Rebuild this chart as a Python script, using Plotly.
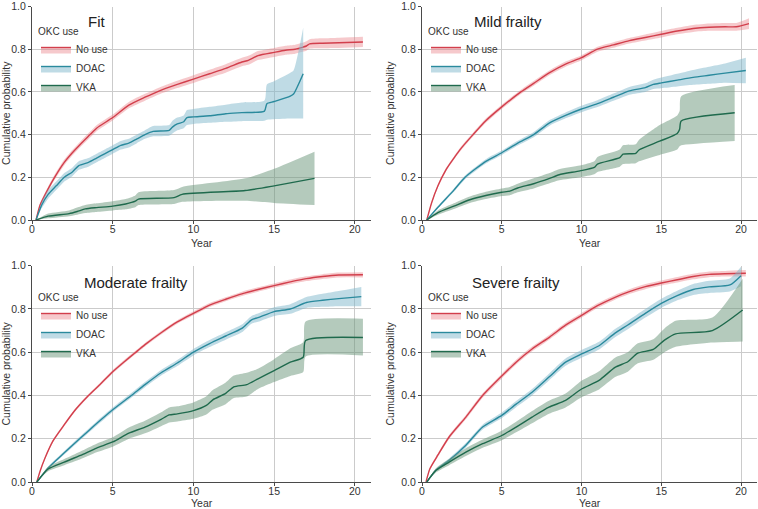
import plotly.graph_objects as go

# ---------------- data ----------------
panel_titles = ["Fit", "Mild frailty", "Moderate frailty", "Severe frailty"]
group_names = ["No use", "DOAC", "VKA"]
legend_title = "OKC use"
x_title = "Year"
y_title = "Cumulative probability"
x_ticks = [0, 5, 10, 15, 20]
y_ticks = [0.0, 0.2, 0.4, 0.6, 0.8, 1.0]

# Fit
fit_nouse_t = [0.25, 0.5, 1, 1.4, 2, 2.5, 3, 3.6, 4, 5, 6, 7, 7.9, 9, 10, 11, 12, 13, 13.4, 14, 15, 15.7, 16.3, 16.8, 17.0, 17.2, 18, 19, 20.5]
fit_nouse_est = [0, 0.07, 0.146, 0.2, 0.27, 0.315, 0.355, 0.4, 0.43, 0.48, 0.538, 0.575, 0.605, 0.635, 0.66, 0.685, 0.71, 0.74, 0.748, 0.77, 0.785, 0.795, 0.8, 0.81, 0.815, 0.825, 0.828, 0.83, 0.834]
fit_nouse_lo = [0, 0.062, 0.135, 0.188, 0.257, 0.302, 0.342, 0.386, 0.416, 0.466, 0.523, 0.559, 0.589, 0.618, 0.642, 0.666, 0.69, 0.72, 0.727, 0.749, 0.764, 0.774, 0.779, 0.789, 0.793, 0.803, 0.805, 0.806, 0.81]
fit_nouse_hi = [0, 0.078, 0.157, 0.212, 0.283, 0.328, 0.368, 0.414, 0.444, 0.494, 0.553, 0.591, 0.621, 0.652, 0.678, 0.704, 0.73, 0.76, 0.769, 0.791, 0.806, 0.816, 0.821, 0.831, 0.837, 0.847, 0.851, 0.854, 0.858]

fit_doac_t = [0.25, 0.6, 1, 1.5, 2, 2.5, 2.9, 3.5, 4, 4.5, 5, 5.5, 6, 6.5, 7, 7.5, 8.5, 8.7, 9.0, 9.4, 9.6, 10, 11, 12, 13, 14.4, 14.55, 15, 16, 16.2, 16.8]
fit_doac_est = [0, 0.07, 0.12, 0.16, 0.2, 0.225, 0.255, 0.27, 0.29, 0.31, 0.33, 0.35, 0.36, 0.38, 0.40, 0.415, 0.42, 0.435, 0.45, 0.46, 0.48, 0.483, 0.488, 0.498, 0.503, 0.51, 0.545, 0.555, 0.58, 0.59, 0.685]
fit_doac_lo = [0, 0.055, 0.1, 0.14, 0.18, 0.205, 0.235, 0.25, 0.27, 0.29, 0.31, 0.33, 0.34, 0.36, 0.38, 0.392, 0.395, 0.405, 0.42, 0.43, 0.445, 0.45, 0.455, 0.46, 0.463, 0.465, 0.47, 0.472, 0.475, 0.475, 0.475]
fit_doac_hi = [0, 0.085, 0.14, 0.18, 0.22, 0.245, 0.275, 0.29, 0.31, 0.33, 0.35, 0.37, 0.38, 0.40, 0.42, 0.44, 0.445, 0.465, 0.48, 0.49, 0.515, 0.52, 0.53, 0.54, 0.55, 0.56, 0.635, 0.65, 0.69, 0.70, 0.90]

fit_vka_t = [0.25, 1, 2.3, 2.8, 3.3, 4, 5, 5.8, 6.4, 6.6, 8.8, 9.3, 13.2, 15, 17.5]
fit_vka_est = [0, 0.018, 0.03, 0.04, 0.052, 0.058, 0.065, 0.075, 0.088, 0.098, 0.105, 0.12, 0.138, 0.16, 0.195]
fit_vka_lo = [0, 0.008, 0.018, 0.025, 0.033, 0.038, 0.045, 0.05, 0.06, 0.07, 0.075, 0.085, 0.09, 0.08, 0.07]
fit_vka_hi = [0, 0.03, 0.045, 0.058, 0.07, 0.078, 0.088, 0.098, 0.115, 0.13, 0.14, 0.155, 0.195, 0.24, 0.32]

# Mild frailty
mild_nouse_t = [0.3, 0.6, 1, 1.5, 2, 2.5, 3.2, 4, 5, 6.2, 7, 8, 9, 10, 11, 12, 13, 14, 15, 16, 17, 18, 19, 19.7, 20.5]
mild_nouse_est = [0, 0.08, 0.16, 0.235, 0.29, 0.34, 0.4, 0.465, 0.53, 0.6, 0.64, 0.69, 0.73, 0.76, 0.8, 0.82, 0.84, 0.855, 0.87, 0.885, 0.897, 0.903, 0.905, 0.905, 0.92]
mild_nouse_lo = [0, 0.074, 0.152, 0.227, 0.282, 0.331, 0.391, 0.455, 0.52, 0.59, 0.629, 0.679, 0.718, 0.748, 0.788, 0.807, 0.827, 0.841, 0.855, 0.87, 0.881, 0.886, 0.887, 0.887, 0.895]
mild_nouse_hi = [0, 0.086, 0.168, 0.243, 0.298, 0.349, 0.409, 0.475, 0.54, 0.61, 0.651, 0.701, 0.742, 0.772, 0.812, 0.833, 0.853, 0.869, 0.885, 0.9, 0.913, 0.92, 0.923, 0.923, 0.945]

mild_doac_t = [0.3, 1, 2, 2.7, 4, 5, 6, 7, 8, 9, 10, 11, 12, 13, 14, 14.5, 15, 16, 17, 18, 19, 20.3]
mild_doac_est = [0, 0.06, 0.14, 0.2, 0.275, 0.315, 0.36, 0.4, 0.455, 0.49, 0.52, 0.545, 0.575, 0.605, 0.62, 0.635, 0.642, 0.655, 0.668, 0.678, 0.688, 0.70]
mild_doac_lo = [0, 0.054, 0.132, 0.191, 0.265, 0.305, 0.349, 0.388, 0.442, 0.476, 0.505, 0.529, 0.558, 0.587, 0.6, 0.613, 0.617, 0.625, 0.633, 0.638, 0.643, 0.64]
mild_doac_hi = [0, 0.066, 0.148, 0.209, 0.285, 0.325, 0.371, 0.412, 0.468, 0.504, 0.535, 0.561, 0.592, 0.623, 0.64, 0.657, 0.667, 0.685, 0.703, 0.718, 0.733, 0.76]

mild_vka_t = [0.3, 1, 2, 3, 4, 5, 5.5, 6, 7, 8, 8.6, 9.9, 10.8, 11.0, 12.4, 12.6, 13.4, 13.6, 14.9, 16.0, 16.15, 16.25, 19.6]
mild_vka_est = [0, 0.035, 0.065, 0.095, 0.115, 0.13, 0.135, 0.15, 0.17, 0.195, 0.212, 0.23, 0.246, 0.262, 0.292, 0.308, 0.312, 0.328, 0.369, 0.405, 0.425, 0.464, 0.502]
mild_vka_lo = [0, 0.025, 0.052, 0.08, 0.098, 0.112, 0.116, 0.13, 0.148, 0.172, 0.186, 0.2, 0.214, 0.225, 0.25, 0.262, 0.266, 0.275, 0.305, 0.33, 0.345, 0.35, 0.37]
mild_vka_hi = [0, 0.045, 0.078, 0.11, 0.132, 0.148, 0.155, 0.17, 0.195, 0.22, 0.238, 0.255, 0.275, 0.295, 0.33, 0.35, 0.355, 0.375, 0.445, 0.49, 0.51, 0.58, 0.632]

# Moderate frailty
mod_nouse_t = [0.3, 0.5, 0.8, 1.3, 2, 2.7, 3.5, 4.2, 5, 5.7, 6.35, 7, 8, 9, 10.4, 11, 12, 13, 14, 15, 16, 17, 18, 19, 20.5]
mod_nouse_est = [0, 0.05, 0.11, 0.19, 0.265, 0.335, 0.4, 0.45, 0.51, 0.555, 0.595, 0.635, 0.69, 0.74, 0.795, 0.818, 0.845, 0.87, 0.89, 0.908, 0.925, 0.94, 0.95, 0.957, 0.958]
mod_nouse_lo = [0, 0.045, 0.104, 0.183, 0.258, 0.328, 0.393, 0.443, 0.502, 0.547, 0.587, 0.627, 0.682, 0.732, 0.786, 0.809, 0.836, 0.86, 0.88, 0.898, 0.914, 0.929, 0.939, 0.946, 0.946]
mod_nouse_hi = [0, 0.055, 0.116, 0.197, 0.272, 0.342, 0.407, 0.457, 0.518, 0.563, 0.603, 0.643, 0.698, 0.748, 0.804, 0.827, 0.854, 0.88, 0.9, 0.918, 0.936, 0.951, 0.961, 0.968, 0.97]

mod_doac_t = [0.3, 1, 2, 2.95, 4, 5, 6.15, 7, 8, 9, 10, 11, 12, 13, 13.6, 14, 15, 16, 17, 18, 19, 20.4]
mod_doac_est = [0, 0.065, 0.135, 0.2, 0.27, 0.334, 0.4, 0.45, 0.505, 0.55, 0.6, 0.64, 0.675, 0.71, 0.75, 0.76, 0.788, 0.8, 0.83, 0.84, 0.848, 0.857]
mod_doac_lo = [0, 0.059, 0.127, 0.191, 0.26, 0.324, 0.389, 0.438, 0.492, 0.536, 0.585, 0.624, 0.658, 0.692, 0.732, 0.741, 0.768, 0.778, 0.805, 0.81, 0.813, 0.812]
mod_doac_hi = [0, 0.071, 0.143, 0.209, 0.28, 0.344, 0.411, 0.462, 0.518, 0.564, 0.615, 0.656, 0.692, 0.728, 0.768, 0.779, 0.808, 0.822, 0.855, 0.87, 0.883, 0.902]

mod_vka_t = [0.3, 1, 2, 3, 4, 5, 6, 7, 8, 8.5, 9, 10, 10.8, 11.2, 12, 12.5, 13.3, 14, 15, 16, 16.8, 16.95, 20.5]
mod_vka_est = [0, 0.06, 0.092, 0.123, 0.157, 0.185, 0.226, 0.254, 0.29, 0.31, 0.315, 0.33, 0.354, 0.38, 0.41, 0.44, 0.45, 0.477, 0.515, 0.554, 0.577, 0.654, 0.668]
mod_vka_lo = [0, 0.05, 0.078, 0.105, 0.137, 0.163, 0.2, 0.225, 0.258, 0.275, 0.28, 0.292, 0.312, 0.335, 0.36, 0.388, 0.395, 0.43, 0.462, 0.49, 0.508, 0.58, 0.585]
mod_vka_hi = [0, 0.07, 0.106, 0.141, 0.177, 0.207, 0.252, 0.283, 0.322, 0.345, 0.35, 0.368, 0.396, 0.425, 0.46, 0.492, 0.505, 0.524, 0.568, 0.618, 0.646, 0.742, 0.755]

# Severe frailty
sev_nouse_t = [0.25, 0.5, 1, 1.7, 2.75, 3.8, 5, 5.9, 6.9, 8, 9, 10, 11, 12.1, 13, 14, 15, 16, 17, 18, 19, 20.3]
sev_nouse_est = [0, 0.062, 0.125, 0.208, 0.30, 0.40, 0.49, 0.554, 0.615, 0.67, 0.725, 0.77, 0.815, 0.854, 0.88, 0.903, 0.92, 0.935, 0.95, 0.96, 0.963, 0.965]
sev_nouse_lo = [0, 0.056, 0.117, 0.199, 0.29, 0.39, 0.479, 0.543, 0.604, 0.659, 0.714, 0.759, 0.804, 0.843, 0.869, 0.891, 0.908, 0.922, 0.937, 0.947, 0.95, 0.95]
sev_nouse_hi = [0, 0.068, 0.133, 0.217, 0.31, 0.41, 0.501, 0.565, 0.626, 0.681, 0.736, 0.781, 0.826, 0.865, 0.891, 0.915, 0.932, 0.948, 0.963, 0.973, 0.976, 0.98]

sev_doac_t = [0.3, 0.875, 1.7, 2.75, 3.8, 5, 5.9, 6.9, 7.96, 9, 10, 11.1, 12.1, 12.9, 14, 15, 16, 17, 18, 19.3, 20]
sev_doac_est = [0, 0.054, 0.10, 0.17, 0.254, 0.308, 0.36, 0.415, 0.485, 0.554, 0.592, 0.63, 0.688, 0.726, 0.78, 0.826, 0.862, 0.89, 0.902, 0.911, 0.954]
sev_doac_lo = [0, 0.047, 0.091, 0.16, 0.243, 0.295, 0.346, 0.4, 0.469, 0.537, 0.574, 0.612, 0.669, 0.706, 0.76, 0.805, 0.84, 0.865, 0.874, 0.881, 0.905]
sev_doac_hi = [0, 0.061, 0.109, 0.18, 0.265, 0.321, 0.374, 0.43, 0.501, 0.571, 0.61, 0.648, 0.707, 0.746, 0.8, 0.847, 0.884, 0.915, 0.93, 0.941, 0.995]

sev_vka_t = [0.3, 0.875, 1.7, 2.75, 3.8, 5, 5.9, 6.9, 7.96, 9, 10, 11.1, 12.1, 12.9, 13.5, 14.5, 15.2, 15.9, 18.2, 20.1]
sev_vka_est = [0, 0.054, 0.092, 0.138, 0.177, 0.215, 0.254, 0.30, 0.346, 0.377, 0.43, 0.47, 0.53, 0.556, 0.595, 0.613, 0.656, 0.685, 0.70, 0.795]
sev_vka_lo = [0, 0.044, 0.078, 0.12, 0.158, 0.193, 0.23, 0.272, 0.316, 0.345, 0.392, 0.428, 0.485, 0.51, 0.548, 0.565, 0.6, 0.625, 0.645, 0.65]
sev_vka_hi = [0, 0.064, 0.106, 0.156, 0.196, 0.237, 0.278, 0.328, 0.376, 0.409, 0.468, 0.512, 0.575, 0.6, 0.64, 0.66, 0.71, 0.745, 0.76, 0.94]

# ---------------- styling ----------------
FONT = "Liberation Sans, Arial, sans-serif"
line_colors = ["#d23f4c", "#2a8a9d", "#1f6a4d"]
fill_colors = ["rgba(232,120,128,0.40)", "rgba(128,183,203,0.50)", "rgba(105,150,122,0.50)"]

panels = [
    [(fit_nouse_t, fit_nouse_est, fit_nouse_lo, fit_nouse_hi),
     (fit_doac_t, fit_doac_est, fit_doac_lo, fit_doac_hi),
     (fit_vka_t, fit_vka_est, fit_vka_lo, fit_vka_hi)],
    [(mild_nouse_t, mild_nouse_est, mild_nouse_lo, mild_nouse_hi),
     (mild_doac_t, mild_doac_est, mild_doac_lo, mild_doac_hi),
     (mild_vka_t, mild_vka_est, mild_vka_lo, mild_vka_hi)],
    [(mod_nouse_t, mod_nouse_est, mod_nouse_lo, mod_nouse_hi),
     (mod_doac_t, mod_doac_est, mod_doac_lo, mod_doac_hi),
     (mod_vka_t, mod_vka_est, mod_vka_lo, mod_vka_hi)],
    [(sev_nouse_t, sev_nouse_est, sev_nouse_lo, sev_nouse_hi),
     (sev_doac_t, sev_doac_est, sev_doac_lo, sev_doac_hi),
     (sev_vka_t, sev_vka_est, sev_vka_lo, sev_vka_hi)],
]

W, H = 758, 509
x_domains = [[32 / W, 371 / W], [422 / W, 757 / W], [32 / W, 371 / W], [422 / W, 757 / W]]
y_domains = [[1 - 220 / H, 1 - 6.5 / H], [1 - 220 / H, 1 - 6.5 / H],
             [1 - 482 / H, 1 - 265.7 / H], [1 - 482 / H, 1 - 265.7 / H]]
legend_pos = [(36 / W, 1 - 22 / H), (426 / W, 1 - 22 / H),
              (36 / W, 1 - 288 / H), (426 / W, 1 - 288 / H)]
title_pos = [(0.19, 0.93), (0.256, 0.93), (0.306, 0.921), (0.28, 0.921)]
xtitle_shift = [-23, -23, -21, -21]

fig = go.Figure()
layout = dict(
    width=W, height=H, margin=dict(l=0, r=0, t=0, b=0),
    paper_bgcolor="white", plot_bgcolor="white",
    font=dict(family=FONT, size=10, color="#333333"),
    showlegend=True, annotations=[], hovermode=False,
)

for i, series in enumerate(panels):
    sfx = "" if i == 0 else str(i + 1)
    xa, ya = "x" + sfx, "y" + sfx
    lg = "legend" + sfx
    for g, (t, est, lo, hi) in enumerate(series):
        fig.add_trace(go.Scatter(x=t, y=lo, mode="lines",
                                 line=dict(width=0, color=line_colors[g], shape="spline", smoothing=0.6),
                                 showlegend=False, xaxis=xa, yaxis=ya, hoverinfo="skip"))
        fig.add_trace(go.Scatter(x=t, y=est, mode="lines", name=group_names[g],
                                 line=dict(width=1.4, color=line_colors[g], shape="spline", smoothing=0.6),
                                 fill="tonexty", fillcolor=fill_colors[g],
                                 xaxis=xa, yaxis=ya, legend=lg))
        fig.add_trace(go.Scatter(x=t, y=hi, mode="lines",
                                 line=dict(width=0, color=line_colors[g], shape="spline", smoothing=0.6),
                                 fill="tonexty", fillcolor=fill_colors[g],
                                 showlegend=False, xaxis=xa, yaxis=ya, hoverinfo="skip"))
    axis_common = dict(showgrid=True, gridcolor="#cbcbcb", gridwidth=1.2,
                       showline=True, linecolor="#4a4a4a", linewidth=1.3,
                       ticks="outside", ticklen=3, tickcolor="#4a4a4a", tickwidth=1.1,
                       zeroline=False, tickfont=dict(size=10.5, color="#333333"),
                       automargin=False, ticklabeloverflow="allow")
    layout["xaxis" + sfx] = dict(axis_common, domain=x_domains[i], range=[0, 21],
                                 tickvals=x_ticks, anchor=ya, ticklabelstandoff=-4)
    layout["yaxis" + sfx] = dict(axis_common, domain=y_domains[i], range=[0, 1.0],
                                 tickvals=y_ticks, tickformat=".1f", anchor=xa,
                                 title=dict(text=y_title, standoff=4,
                                            font=dict(size=10.5, color="#333333")))
    layout[lg] = dict(x=legend_pos[i][0], y=legend_pos[i][1], xanchor="left", yanchor="top",
                      bgcolor="rgba(0,0,0,0)", font=dict(size=10, color="#333333"),
                      title=dict(text=legend_title, font=dict(size=10, color="#333333")),
                      traceorder="normal",
                      itemclick=False, itemdoubleclick=False, tracegroupgap=0)
    layout["annotations"].append(dict(text=panel_titles[i], xref=xa + " domain", yref=ya + " domain",
                                      x=title_pos[i][0], y=title_pos[i][1], showarrow=False,
                                      xanchor="center", yanchor="middle",
                                      font=dict(size=15, color="#222222", family=FONT)))
    layout["annotations"].append(dict(text=x_title, xref=xa + " domain", yref=ya + " domain",
                                      x=0.5, y=0, yshift=xtitle_shift[i], showarrow=False,
                                      xanchor="center", yanchor="middle",
                                      font=dict(size=10.5, color="#333333", family=FONT)))

fig.update_layout(**layout)
fig.write_html("out.html", config={"displayModeBar": False},
               post_script="document.body.style.margin='0px';document.body.style.overflow='hidden';")
